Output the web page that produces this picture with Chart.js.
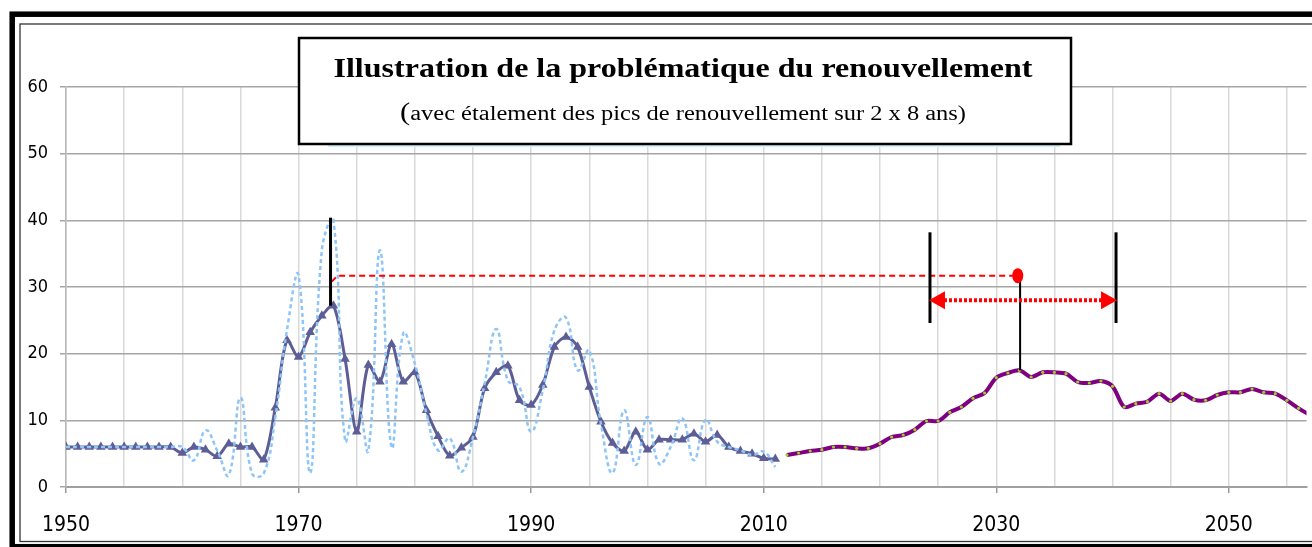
<!DOCTYPE html>
<html lang="fr">
<head>
<meta charset="utf-8">
<title>Problématique du renouvellement</title>
<script src="https://cdn.jsdelivr.net/npm/chart.js@4.4.1/dist/chart.umd.min.js"></script>
<style>
    html, body { margin: 0; padding: 0; background: #fff; overflow: hidden; }
    #cadre { position: relative; width: 1312px; height: 547px; }
</style>
</head>
<body>
<div id="cadre"><canvas id="graphique" width="1312" height="547"></canvas></div>
<script>
// ==========================================
// Données
// ==========================================
const anneesHisto = [
    1950, 1951, 1952, 1953, 1954, 1955, 1956, 1957, 1958, 1959,
    1960, 1961, 1962, 1963, 1964, 1965, 1966, 1967, 1968, 1969,
    1970, 1971, 1972, 1973, 1974, 1975, 1976, 1977, 1978, 1979,
    1980, 1981, 1982, 1983, 1984, 1985, 1986, 1987, 1988, 1989,
    1990, 1991, 1992, 1993, 1994, 1995, 1996, 1997, 1998, 1999,
    2000, 2001, 2002, 2003, 2004, 2005, 2006, 2007, 2008, 2009,
    2010, 2011
];
// renouvellement annuel brut (pointillés bleu clair)
const renouvBrut = [
    6, 6, 6, 6, 6, 6, 6, 6, 6, 6,
    6.0, 4.0, 8.5, 5.5, 1.8, 13.4, 2.0, 2.0, 10.5, 23.5,
    31.7, 2.1, 35.5, 40.0, 7.0, 13.3, 5.5, 35.5, 6.0, 23.0,
    18.5, 11.0, 5.5, 7.3, 2.3, 7.5, 15.5, 23.7, 16.0, 15.0,
    8.3, 14.5, 23.5, 25.4, 17.5, 20.5, 9.5, 2.1, 11.5, 3.3,
    10.5, 3.5, 6.0, 10.3, 4.0, 10.1, 6.8, 6.0, 5.5, 4.8,
    5.3, 3.0
];
// renouvellement lissé (triangles)
const renouvLisse = [
    6, 6, 6, 6, 6, 6, 6, 6, 6, 6,
    5.1, 6.0, 5.6, 4.6, 6.5, 6.0, 6.0, 4.1, 11.9, 22.0,
    19.5, 23.2, 25.7, 27.2, 19.2, 8.3, 18.3, 15.8, 21.4, 15.8,
    17.2, 11.5, 7.6, 4.7, 5.9, 7.5, 14.8, 17.2, 18.2, 13.0,
    12.3, 15.3, 21.0, 22.5, 21.0, 15.0, 9.8, 6.6, 5.4, 8.3,
    5.6, 7.1, 7.1, 7.1, 8.0, 6.8, 7.8, 6.0, 5.4, 5.0,
    4.3, 4.2
];
const anneesProjection = [
    2012, 2013, 2014, 2015, 2016, 2017, 2018, 2019, 2020, 2021,
    2022, 2023, 2024, 2025, 2026, 2027, 2028, 2029, 2030, 2031,
    2032, 2033, 2034, 2035, 2036, 2037, 2038, 2039, 2040, 2041,
    2042, 2043, 2044, 2045, 2046, 2047, 2048, 2049, 2050, 2051,
    2052, 2053, 2054, 2055, 2056, 2057
];
const renouvProjection = [
    4.8, 5.1, 5.4, 5.6, 6.0, 6.0, 5.8, 5.8, 6.5, 7.5,
    7.8, 8.6, 9.9, 9.9, 11.2, 12.0, 13.3, 14.1, 16.4, 17.1,
    17.5, 16.5, 17.2, 17.2, 17.0, 15.75, 15.6, 15.9, 15.1, 12.0,
    12.5, 12.8, 14.0, 12.9, 14.0, 13.1, 13.0, 13.8, 14.2, 14.2,
    14.7, 14.2, 14.0, 13.0, 11.8, 10.8
];
const etiquettesAnnees = [1950, 1970, 1990, 2010, 2030, 2050];

// repères de l'illustration (années / valeurs)
const picAnnee = 1972.75, picBas = 27.2, picHaut = 40.4;
const reportAnnee = 2031.85, reportNiveau = 31.7, reportBase = 17.5;
const etalementDebut = 2024.3, etalementFin = 2040.3, etalementNiveau = 28, etalementBas = 24.6, etalementHaut = 38.2;

const POLICE_AXES = "'DejaVu Sans Condensed', 'Liberation Sans Narrow', sans-serif";

function enPoints(annees, valeurs) {
    return annees.map((a, i) => ({ x: a, y: valeurs[i] }));
}

function trait(ctx, x1, y1, x2, y2) {
    ctx.beginPath();
    ctx.moveTo(x1, y1);
    ctx.lineTo(x2, y2);
    ctx.stroke();
}

// flèches, pics et traits rouges
const illustration = {
    id: 'illustration',
    afterDatasetsDraw(chart) {
        const { ctx } = chart;
        const px = v => chart.scales.x.getPixelForValue(v);
        const py = v => chart.scales.y.getPixelForValue(v);
        ctx.save();

        // report du pic de 1973 (tirets rouges)
        ctx.strokeStyle = '#ff0000'; ctx.lineWidth = 2; ctx.setLineDash([6, 4]);
        ctx.beginPath();
        ctx.moveTo(px(picAnnee + 0.1), py(reportNiveau - 0.9));
        ctx.lineTo(px(picAnnee + 0.6), py(reportNiveau));
        ctx.lineTo(px(reportAnnee), py(reportNiveau));
        ctx.stroke();
        ctx.setLineDash([]);

        // pic de 1973
        ctx.strokeStyle = '#000'; ctx.lineWidth = 3;
        trait(ctx, px(picAnnee), py(picBas), px(picAnnee), py(picHaut));

        // bornes de l'étalement
        trait(ctx, px(etalementDebut), py(etalementBas), px(etalementDebut), py(etalementHaut));
        trait(ctx, px(etalementFin), py(etalementBas), px(etalementFin), py(etalementHaut));

        // pic reporté
        ctx.lineWidth = 2;
        trait(ctx, px(reportAnnee + 0.2), py(reportBase), px(reportAnnee + 0.2), py(reportNiveau));
        ctx.fillStyle = '#ff0000';
        ctx.beginPath();
        ctx.ellipse(px(reportAnnee), py(reportNiveau), 5.5, 7.5, 0, 0, Math.PI * 2);
        ctx.fill();

        // double flèche en pointillés
        const xa = px(etalementDebut), xb = px(etalementFin), ya = py(etalementNiveau);
        ctx.strokeStyle = '#ff0000'; ctx.lineWidth = 4; ctx.setLineDash([3, 2]);
        trait(ctx, xa + 14, ya, xb - 14, ya);
        ctx.setLineDash([]);
        ctx.beginPath();
        ctx.moveTo(xa - 1, ya); ctx.lineTo(xa + 15, ya - 9); ctx.lineTo(xa + 15, ya + 9); ctx.closePath();
        ctx.moveTo(xb + 1, ya); ctx.lineTo(xb - 15, ya - 9); ctx.lineTo(xb - 15, ya + 9); ctx.closePath();
        ctx.fill();
        ctx.restore();
    },
    afterDraw(chart) {
        const { ctx } = chart;
        ctx.save();

        // cadres extérieurs
        ctx.strokeStyle = '#000'; ctx.lineWidth = 5.5;
        ctx.strokeRect(12.2, 14.2, 1400, 532.5);
        ctx.strokeStyle = '#333'; ctx.lineWidth = 1.3;
        ctx.strokeRect(20, 24, 1400, 517.5);

        // encadré du titre
        ctx.strokeStyle = '#c9f3f8'; ctx.lineWidth = 2;
        trait(ctx, 328, 146, 1060, 146);
        ctx.fillStyle = '#fff';
        ctx.fillRect(299, 38, 772, 106);
        ctx.strokeStyle = '#000'; ctx.lineWidth = 2.5;
        ctx.strokeRect(299, 38, 772, 106);

        ctx.fillStyle = '#000';
        ctx.textBaseline = 'alphabetic';
        ctx.textAlign = 'left';
        const titre = 'Illustration de la problématique du renouvellement';
        ctx.font = "bold 28px 'Liberation Serif', 'Times New Roman', serif";
        let w = ctx.measureText(titre).width;
        ctx.save();
        ctx.translate(683, 77);
        ctx.scale(699 / w, 1);
        ctx.fillText(titre, -w / 2, 0);
        ctx.restore();

        const sousTitre = 'avec étalement des pics de renouvellement sur 2 x 8 ans)';
        ctx.font = "25px 'Liberation Serif', 'Times New Roman', serif";
        const wp = ctx.measureText('(').width;
        ctx.font = "20px 'Liberation Serif', 'Times New Roman', serif";
        w = ctx.measureText(sousTitre).width;
        const total = wp + w;
        ctx.save();
        ctx.translate(683, 120);
        ctx.scale(566 / total, 1);
        ctx.font = "25px 'Liberation Serif', 'Times New Roman', serif";
        ctx.fillText('(', -total / 2, 0);
        ctx.font = "20px 'Liberation Serif', 'Times New Roman', serif";
        ctx.fillText(sousTitre, -total / 2 + wp, 0);
        ctx.restore();

        ctx.restore();
    }
};

const ctxGraphique = document.getElementById('graphique').getContext('2d');
new Chart(ctxGraphique, {
    type: 'line',
    data: {
        datasets: [
            {
                label: 'Renouvellement annuel',
                data: enPoints(anneesHisto, renouvBrut),
                borderColor: '#8ec5f7', borderWidth: 2.5, borderDash: [4, 3],
                tension: 0.45, pointRadius: 0, fill: false
            },
            {
                label: 'Renouvellement lissé',
                data: enPoints(anneesHisto, renouvLisse),
                borderColor: '#5e5e96', backgroundColor: '#5e5e96',
                borderWidth: 3, tension: 0.3,
                pointStyle: 'triangle', pointRadius: 5.5, pointBorderWidth: 0, fill: false
            },
            {
                label: 'Projection',
                data: enPoints(anneesProjection, renouvProjection),
                borderColor: '#800080', borderWidth: 4, tension: 0.3,
                pointRadius: 1.6, pointBackgroundColor: '#9acd32', pointBorderWidth: 0, fill: false
            }
        ]
    },
    options: {
        responsive: false, animation: false, devicePixelRatio: 1,
        layout: { padding: { top: 87, left: 0, right: 0, bottom: 0 } },
        plugins: { legend: { display: false }, tooltip: { enabled: false } },
        scales: {
            x: {
                type: 'linear', min: 1950, max: 2056.68,
                ticks: {
                    stepSize: 5, includeBounds: false, autoSkip: false, maxRotation: 0,
                    padding: 20, color: '#000',
                    font: { family: POLICE_AXES, size: 21 },
                    callback: v => etiquettesAnnees.includes(v) ? String(v) : ''
                },
                grid: {
                    color: '#d9d9d9', lineWidth: 1.5, tickLength: 6,
                    tickColor: c => etiquettesAnnees.includes(c.tick.value) ? '#9a9a9a' : 'rgba(0,0,0,0)'
                },
                border: { color: '#a0a0a0', width: 2 },
                afterFit: s => { s.height = 60; }
            },
            y: {
                min: 0, max: 60,
                ticks: { stepSize: 10, padding: 12, color: '#000', font: { family: POLICE_AXES, size: 18 } },
                grid: { color: '#a6a6a6', lineWidth: 1.5, tickLength: 6 },
                border: { color: '#b8b8b8', width: 1.5 },
                afterFit: s => { s.width = 66; }
            }
        }
    },
    plugins: [illustration]
});
</script>
</body>
</html>
